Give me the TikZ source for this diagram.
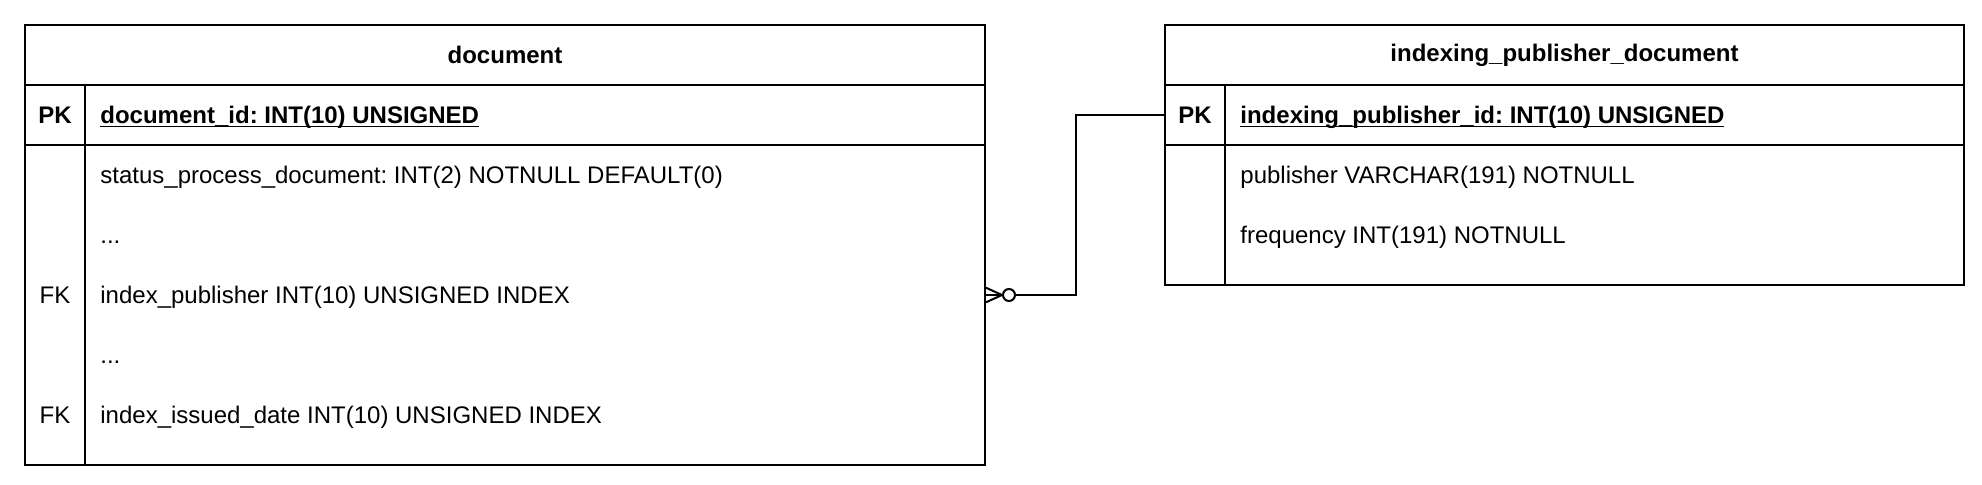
\documentclass[tikz,border=0pt]{standalone}
\usepackage{fontspec}
\setmainfont{Liberation Sans}
\frenchspacing
\usetikzlibrary{positioning,calc}
\tikzset{
  er/table/.style={draw, line width=1pt, inner sep=0pt},
  er/line/.style={line width=1pt},
  er/title/.style={font=\fontsize{12}{14}\selectfont\bfseries, inner sep=0pt},
  er/keycell/.style={font=\fontsize{12}{14}\selectfont, inner sep=0pt, minimum width=30pt, minimum height=30pt},
  er/field/.style={font=\fontsize{12}{14}\selectfont, anchor=base west, inner sep=0pt},
  er/zero/.style={draw, circle, line width=1pt, inner sep=0pt, minimum size=6pt}
}
\newcommand{\keyattr}[1]{\underline{\smash{#1}}}

\begin{document}
\begin{tikzpicture}[x=0.5pt, y=-0.5pt]
  \useasboundingbox (0,0) rectangle (1982,484);

  % table document
  \node[er/table, minimum width=480pt, minimum height=220pt] (doc) at (505,245) {};
  \draw[er/line] (doc.west |- 0,85) -- (doc.east |- 0,85);
  \draw[er/line] (doc.west |- 0,145) -- (doc.east |- 0,145);
  \draw[er/line] (85,85) -- (85,465);
  \node[er/title] (doc-title) at (505,55) {document};
  \node[er/keycell, font=\fontsize{12}{14}\selectfont\bfseries] (doc-pk) at (55,115) {PK};
  \node[er/field, font=\fontsize{12}{14}\selectfont\bfseries] (doc-id) at (100,123.5) {\keyattr{document\_id: INT(10) UNSIGNED}};
  \node[er/field] (doc-status) at (100,183.5) {status\_process\_document: INT(2) NOTNULL DEFAULT(0)};
  \node[er/field] (doc-dots1) at (100,243.5) {...};
  \node[er/keycell] (doc-fk1) at (55,295) {FK};
  \node[er/field] (doc-pub) at (100,303.5) {index\_publisher INT(10) UNSIGNED INDEX};
  \node[er/field] (doc-dots2) at (100,363.5) {...};
  \node[er/keycell] (doc-fk2) at (55,415) {FK};
  \node[er/field] (doc-date) at (100,423.5) {index\_issued\_date INT(10) UNSIGNED INDEX};

  % table indexing_publisher_document
  \node[er/table, minimum width=399.5pt, minimum height=130pt] (ipd) at (1564.5,155) {};
  \draw[er/line] (ipd.west |- 0,85) -- (ipd.east |- 0,85);
  \draw[er/line] (ipd.west |- 0,145) -- (ipd.east |- 0,145);
  \draw[er/line] (1225,85) -- (1225,285);
  \node[er/title] (ipd-title) at (1564.5,55) {indexing\_publisher\_document};
  \node[er/keycell, font=\fontsize{12}{14}\selectfont\bfseries] (ipd-pk) at (1195,115) {PK};
  \node[er/field, font=\fontsize{12}{14}\selectfont\bfseries] (ipd-id) at (1240,123.5) {\keyattr{indexing\_publisher\_id: INT(10) UNSIGNED}};
  \node[er/field] (ipd-pub) at (1240,183.5) {publisher VARCHAR(191) NOTNULL};
  \node[er/field] (ipd-freq) at (1240,243.5) {frequency INT(191) NOTNULL};

  % relation
  \node[er/zero] (opt) at (1009,295) {};
  \coordinate (fkfoot) at (doc.east |- opt);
  \draw[er/line] (fkfoot) -- (opt.west);
  \draw[er/line] ($(fkfoot)+(0,-7.3)$) -- (opt.west) -- ($(fkfoot)+(0,7.3)$);
  \draw[er/line] (opt.east) -- ++(60,0) |- (ipd-pk.west);
\end{tikzpicture}
\end{document}
